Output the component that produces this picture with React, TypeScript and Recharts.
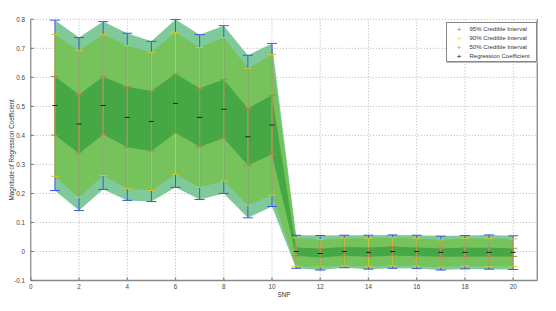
import {
  ComposedChart,
  Area,
  Scatter,
  ErrorBar,
  XAxis,
  YAxis,
  CartesianGrid,
  ReferenceLine,
} from "recharts";

// posterior summaries per SNP
const snp = [1, 2, 3, 4, 5, 6, 7, 8, 9, 10, 11, 12, 13, 14, 15, 16, 17, 18, 19, 20];
const lo95 = [0.21, 0.141, 0.214, 0.176, 0.172, 0.221, 0.179, 0.2, 0.116, 0.155, -0.058, -0.064, -0.056, -0.061, -0.058, -0.059, -0.064, -0.06, -0.061, -0.062];
const lo90 = [0.259, 0.186, 0.262, 0.217, 0.21, 0.266, 0.221, 0.243, 0.159, 0.194, -0.051, -0.053, -0.05, -0.052, -0.05, -0.05, -0.054, -0.05, -0.052, -0.052];
const lo50 = [0.401, 0.338, 0.403, 0.359, 0.346, 0.408, 0.361, 0.39, 0.297, 0.334, -0.015, -0.021, -0.015, -0.018, -0.015, -0.016, -0.018, -0.018, -0.017, -0.017];
const coef = [0.503, 0.439, 0.503, 0.462, 0.448, 0.51, 0.462, 0.49, 0.395, 0.436, 0.0, -0.007, 0.0, -0.003, 0.0, 0.0, -0.003, -0.003, -0.003, -0.003];
const hi50 = [0.603, 0.541, 0.602, 0.568, 0.553, 0.612, 0.562, 0.593, 0.493, 0.538, 0.014, 0.01, 0.015, 0.014, 0.017, 0.014, 0.011, 0.013, 0.013, 0.011];
const hi90 = [0.748, 0.692, 0.748, 0.71, 0.686, 0.755, 0.703, 0.737, 0.631, 0.679, 0.047, 0.041, 0.046, 0.045, 0.048, 0.045, 0.04, 0.045, 0.045, 0.043];
const hi95 = [0.797, 0.737, 0.792, 0.752, 0.724, 0.799, 0.747, 0.778, 0.676, 0.717, 0.056, 0.055, 0.056, 0.056, 0.057, 0.056, 0.053, 0.055, 0.057, 0.054];

const xTicks = [0, 2, 4, 6, 8, 10, 12, 14, 16, 18, 20];
const yTicks = [-0.1, 0, 0.1, 0.2, 0.3, 0.4, 0.5, 0.6, 0.7, 0.8];

const legendItems = [
  { label: "95% Credible Interval", color: "#6b78ff" },
  { label: "90% Credible Interval", color: "#e8dc3a" },
  { label: "50% Credible Interval", color: "#d3a06a" },
  { label: "Regression Coefficient", color: "#111" },
];

const data = snp.map((s, i) => ({
  snp: s,
  lo95: lo95[i],
  lo90: lo90[i],
  lo50: lo50[i],
  coef: coef[i],
  hi50: hi50[i],
  hi90: hi90[i],
  hi95: hi95[i],
}));

const font = "'Liberation Sans', Arial, sans-serif";
const tickStyle = { fontSize: 6.3, fill: "#444", fontFamily: font };

function Dash(p: any) {
  return <line x1={p.cx - 2.5} x2={p.cx + 2.5} y1={p.cy} y2={p.cy} stroke="#222" strokeWidth={1} />;
}

export default function App() {
  return (
    <div style={{ position: "absolute", left: 0, top: 0, width: 556, height: 311, background: "#fff", fontFamily: font }}>
      <ComposedChart
        width={556}
        height={311}
        data={data}
        margin={{ top: 19.3, right: 18.7, bottom: 0.5, left: 0 }}
      >
        <CartesianGrid stroke="#b4b4b4" strokeDasharray="1 2" />
        <XAxis
          dataKey="snp"
          type="number"
          domain={[0, 21]}
          ticks={xTicks}
          height={30}
          stroke="#888"
          strokeWidth={1.3}
          tickSize={-3}
          tickMargin={7.2}
          tick={tickStyle}
          label={{ value: "SNP", position: "insideBottom", offset: 14, fontSize: 6.3, fill: "#333", fontFamily: font }}
        />
        <YAxis
          type="number"
          domain={[-0.1, 0.8]}
          ticks={yTicks}
          width={30.8}
          stroke="#777"
          tickSize={-3}
          tickMargin={8.8}
          tick={tickStyle}
          tickFormatter={(v: number) => String(Math.round(v * 10) / 10)}
          label={{
            value: "Magnitude of Regression Coefficient",
            angle: -90,
            position: "insideLeft",
            offset: 11.7,
            fontSize: 6.3,
            fill: "#333",
            fontFamily: font,
            style: { textAnchor: "middle" },
          }}
        />
        <ReferenceLine x={21} stroke="#888" strokeWidth={1.3} />
        <Area
          dataKey={(d: any) => [d.lo95, d.hi95]}
          type="linear"
          fill="#7fc99a"
          fillOpacity={1}
          stroke="none"
          isAnimationActive={false}
        />
        <Area
          dataKey={(d: any) => [d.lo90, d.hi90]}
          type="linear"
          fill="#76c35c"
          fillOpacity={1}
          stroke="none"
          isAnimationActive={false}
        />
        <Area
          dataKey={(d: any) => [d.lo50, d.hi50]}
          type="linear"
          fill="#45a845"
          fillOpacity={1}
          stroke="none"
          isAnimationActive={false}
        />
        <Scatter dataKey="coef" shape={Dash} isAnimationActive={false}>
          <ErrorBar
            dataKey={(d: any) => [d.coef - d.lo95, d.hi95 - d.coef]}
            direction="y"
            width={5}
            stroke="#3f57e2"
            strokeWidth={1}
          />
          <ErrorBar
            dataKey={(d: any) => [d.coef - d.lo90, d.hi90 - d.coef]}
            direction="y"
            width={4}
            stroke="#cccb2e"
            strokeWidth={1}
          />
          <ErrorBar
            dataKey={(d: any) => [d.coef - d.lo50, d.hi50 - d.coef]}
            direction="y"
            width={4}
            stroke="#ad8a4e"
            strokeWidth={1}
          />
        </Scatter>
      </ComposedChart>
      <div
        style={{
          position: "absolute",
          left: 445.5,
          top: 22,
          width: 89,
          height: 38,
          background: "#fff",
          border: "1px solid #888",
          boxShadow: "1px 1px 0 #bbb",
        }}
      >
        {legendItems.map((it, i) => (
          <div
            key={it.label}
            style={{ position: "absolute", left: 0, top: 2 + i * 9.1, height: 9, width: 89, fontSize: 6, lineHeight: "9px", color: "#333" }}
          >
            <span style={{ position: "absolute", left: 9.5, width: 6, textAlign: "center", color: it.color, fontSize: 8 }}>+</span>
            <span style={{ position: "absolute", left: 23 }}>{it.label}</span>
          </div>
        ))}
      </div>
    </div>
  );
}
